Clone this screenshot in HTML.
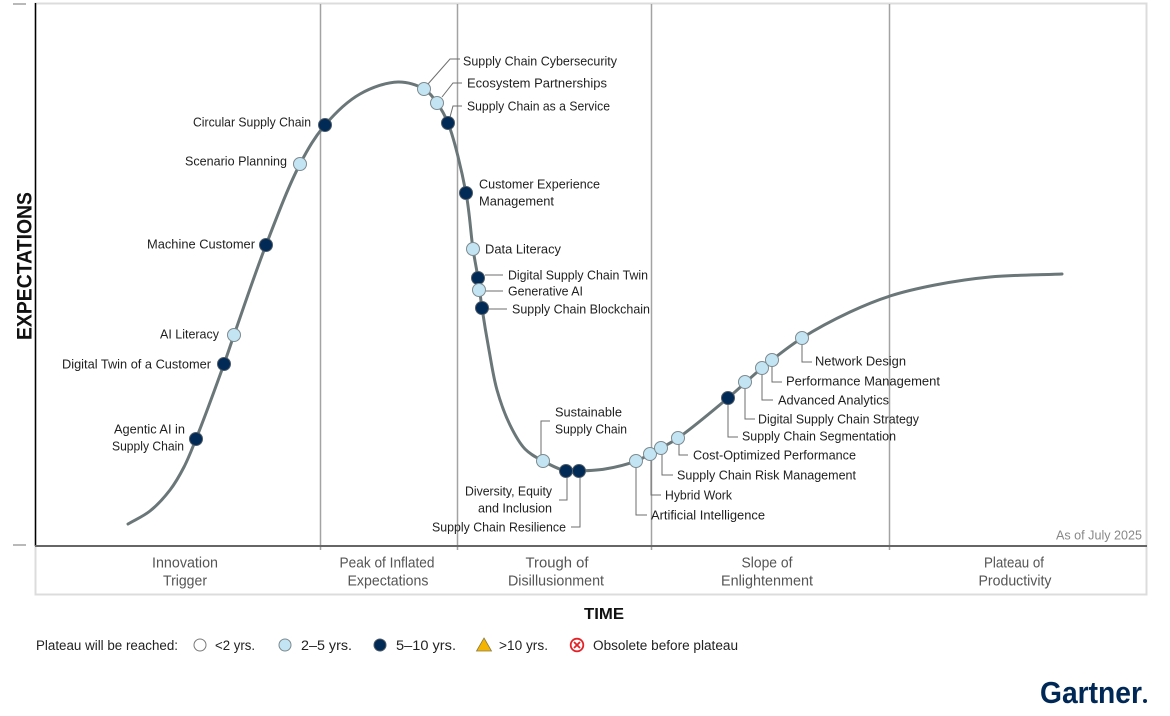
<!DOCTYPE html>
<html>
<head>
<meta charset="utf-8">
<style>
html,body{margin:0;padding:0;background:#fff;}
svg{display:block;}
.lbl{font-family:"Liberation Sans",sans-serif;font-size:13px;fill:#1f1f1f;}
.ph{font-family:"Liberation Sans",sans-serif;font-size:14.5px;fill:#555;}
.lg{font-family:"Liberation Sans",sans-serif;font-size:13.5px;fill:#222;}
.ld{stroke:#6e6e6e;stroke-width:1;fill:none;}
.L{fill:#c3e5f3;stroke:#7d8a8f;stroke-width:1;}
.D{fill:#012a57;stroke:#4c5a66;stroke-width:1;}
</style>
</head>
<body>
<svg id="s" width="1170" height="716" viewBox="0 0 1170 716" xmlns="http://www.w3.org/2000/svg">
<rect x="0" y="0" width="1170" height="716" fill="#fff"/>
<!-- frame -->
<rect x="35.5" y="3.5" width="1111" height="591" fill="none" stroke="#dcdcdc" stroke-width="2"/>
<!-- dividers -->
<g stroke="#a3a3a3" stroke-width="1.5">
<line x1="320.5" y1="4" x2="320.5" y2="550"/>
<line x1="457.5" y1="4" x2="457.5" y2="550"/>
<line x1="651.5" y1="4" x2="651.5" y2="550"/>
<line x1="889.5" y1="4" x2="889.5" y2="550"/>
</g>
<!-- axes -->
<line x1="35.5" y1="3" x2="35.5" y2="546" stroke="#000" stroke-width="1.5"/>
<line x1="35" y1="546" x2="1147" y2="546" stroke="#666" stroke-width="2"/>
<line x1="13" y1="4" x2="26" y2="4" stroke="#8a8a8a" stroke-width="1.2"/>
<line x1="13" y1="545" x2="26" y2="545" stroke="#8a8a8a" stroke-width="1.2"/>

<text x="24" y="266" transform="rotate(-90 24 266)" text-anchor="middle" dy="7.5" font-family="Liberation Sans, sans-serif" font-weight="bold" font-size="21" fill="#111" textLength="148" lengthAdjust="spacingAndGlyphs">EXPECTATIONS</text>

<!-- curve -->
<path id="curve" d="M128,524 L150,511 L170,490 L184,467 L196,439 L224,364 L234,335 L266,245 L300,164 L325,125 L360,94 L398,82 L424,89 L437,103 L448,123 L466,193 L473,249 L478,278 L482,308 L489,350 L497,390 L510,425 L525,449 L543,461 L566,471 L579,471 L605,469 L636,461 L661,448 L678,438 L728,398 L762,368 L802,338 L850,312 L890,296 L935,285 L990,277 L1062,274" fill="none" stroke="#6a7678" stroke-width="3" stroke-linecap="round" stroke-linejoin="round"/>

<!-- leader lines -->
<g class="ld">
<polyline points="428,84 450,59 460,59"/>
<polyline points="442,97 453,83 462,83"/>
<polyline points="450,117 453,106 462,106"/>
<line x1="485" y1="275" x2="503" y2="275"/>
<line x1="486" y1="291" x2="503" y2="291"/>
<line x1="488" y1="309" x2="507" y2="309"/>
<polyline points="541,455 541,421 550,421"/>
<polyline points="567,477 567,500 559,500"/>
<polyline points="580,477 580,527 571,527"/>
<polyline points="636,467 636,515 647,515"/>
<polyline points="651,460 651,495 661,495"/>
<polyline points="662,454 662,475 673,475"/>
<polyline points="679,444 679,455 688,455"/>
<polyline points="728,404 728,437 738,437"/>
<polyline points="745,388 745,419 755,419"/>
<polyline points="762,374 762,400 773,400"/>
<polyline points="772,366 772,382 782,382"/>
<polyline points="802,344 802,362 812,362"/>
</g>

<!-- dots -->
<g>
<circle class="D" cx="196" cy="439" r="6.5"/>
<circle class="D" cx="224" cy="364" r="6.5"/>
<circle class="L" cx="234" cy="335" r="6.5"/>
<circle class="D" cx="266" cy="245" r="6.5"/>
<circle class="L" cx="300" cy="164" r="6.5"/>
<circle class="D" cx="325" cy="125" r="6.5"/>
<circle class="L" cx="424" cy="89" r="6.5"/>
<circle class="L" cx="437" cy="103" r="6.5"/>
<circle class="D" cx="448" cy="123" r="6.5"/>
<circle class="D" cx="466" cy="193" r="6.5"/>
<circle class="L" cx="473" cy="249" r="6.5"/>
<circle class="D" cx="478" cy="278" r="6.5"/>
<circle class="L" cx="479" cy="290" r="6.5"/>
<circle class="D" cx="482" cy="308" r="6.5"/>
<circle class="L" cx="543" cy="461" r="6.5"/>
<circle class="D" cx="566" cy="471" r="6.5"/>
<circle class="D" cx="579" cy="471" r="6.5"/>
<circle class="L" cx="636" cy="461" r="6.5"/>
<circle class="L" cx="650" cy="454" r="6.5"/>
<circle class="L" cx="661" cy="448" r="6.5"/>
<circle class="L" cx="678" cy="438" r="6.5"/>
<circle class="D" cx="728" cy="398" r="6.5"/>
<circle class="L" cx="745" cy="382" r="6.5"/>
<circle class="L" cx="762" cy="368" r="6.5"/>
<circle class="L" cx="772" cy="360" r="6.5"/>
<circle class="L" cx="802" cy="338" r="6.5"/>
</g>

<!-- labels right-aligned -->
<g class="lbl" text-anchor="end">
<text x="311" y="126.7" textLength="118" lengthAdjust="spacingAndGlyphs">Circular Supply Chain</text>
<text x="287" y="165.7" textLength="102" lengthAdjust="spacingAndGlyphs">Scenario Planning</text>
<text x="255" y="248.7" textLength="108" lengthAdjust="spacingAndGlyphs">Machine Customer</text>
<text x="219" y="338.7" textLength="59" lengthAdjust="spacingAndGlyphs">AI Literacy</text>
<text x="211" y="368.7" textLength="149" lengthAdjust="spacingAndGlyphs">Digital Twin of a Customer</text>
<text x="185" y="433.7" textLength="71" lengthAdjust="spacingAndGlyphs">Agentic AI in</text>
<text x="184" y="450.7" textLength="72" lengthAdjust="spacingAndGlyphs">Supply Chain</text>
<text x="552" y="495.7" textLength="87" lengthAdjust="spacingAndGlyphs">Diversity, Equity</text>
<text x="552" y="512.7" textLength="74" lengthAdjust="spacingAndGlyphs">and Inclusion</text>
<text x="566" y="531.7" textLength="134" lengthAdjust="spacingAndGlyphs">Supply Chain Resilience</text>
</g>
<!-- labels left-aligned -->
<g class="lbl">
<text x="463" y="65.7" textLength="154" lengthAdjust="spacingAndGlyphs">Supply Chain Cybersecurity</text>
<text x="467" y="87.7" textLength="140" lengthAdjust="spacingAndGlyphs">Ecosystem Partnerships</text>
<text x="467" y="110.7" textLength="143" lengthAdjust="spacingAndGlyphs">Supply Chain as a Service</text>
<text x="479" y="188.7" textLength="121" lengthAdjust="spacingAndGlyphs">Customer Experience</text>
<text x="479" y="205.7" textLength="75" lengthAdjust="spacingAndGlyphs">Management</text>
<text x="485" y="253.7" textLength="76" lengthAdjust="spacingAndGlyphs">Data Literacy</text>
<text x="508" y="279.7" textLength="140" lengthAdjust="spacingAndGlyphs">Digital Supply Chain Twin</text>
<text x="508" y="295.7" textLength="75" lengthAdjust="spacingAndGlyphs">Generative AI</text>
<text x="512" y="313.7" textLength="138" lengthAdjust="spacingAndGlyphs">Supply Chain Blockchain</text>
<text x="555" y="416.7" textLength="67" lengthAdjust="spacingAndGlyphs">Sustainable</text>
<text x="555" y="433.7" textLength="72" lengthAdjust="spacingAndGlyphs">Supply Chain</text>
<text x="651" y="519.7" textLength="114" lengthAdjust="spacingAndGlyphs">Artificial Intelligence</text>
<text x="665" y="499.7" textLength="67" lengthAdjust="spacingAndGlyphs">Hybrid Work</text>
<text x="677" y="479.7" textLength="179" lengthAdjust="spacingAndGlyphs">Supply Chain Risk Management</text>
<text x="693" y="459.7" textLength="163" lengthAdjust="spacingAndGlyphs">Cost-Optimized Performance</text>
<text x="742" y="440.7" textLength="154" lengthAdjust="spacingAndGlyphs">Supply Chain Segmentation</text>
<text x="758" y="423.7" textLength="161" lengthAdjust="spacingAndGlyphs">Digital Supply Chain Strategy</text>
<text x="778" y="404.7" textLength="111" lengthAdjust="spacingAndGlyphs">Advanced Analytics</text>
<text x="786" y="385.7" textLength="154" lengthAdjust="spacingAndGlyphs">Performance Management</text>
<text x="815" y="365.7" textLength="91" lengthAdjust="spacingAndGlyphs">Network Design</text>
</g>

<text x="1142" y="539.5" text-anchor="end" font-family="Liberation Sans, sans-serif" font-size="12.5" fill="#888" textLength="86" lengthAdjust="spacingAndGlyphs">As of July 2025</text>

<!-- phase labels -->
<g class="ph" text-anchor="middle">
<text x="185" y="567.5" textLength="66" lengthAdjust="spacingAndGlyphs">Innovation</text>
<text x="185" y="585.5" textLength="44" lengthAdjust="spacingAndGlyphs">Trigger</text>
<text x="387" y="567.5" textLength="95" lengthAdjust="spacingAndGlyphs">Peak of Inflated</text>
<text x="388" y="585.5" textLength="81" lengthAdjust="spacingAndGlyphs">Expectations</text>
<text x="557" y="567.5" textLength="63" lengthAdjust="spacingAndGlyphs">Trough of</text>
<text x="556" y="585.5" textLength="96" lengthAdjust="spacingAndGlyphs">Disillusionment</text>
<text x="767" y="567.5" textLength="51" lengthAdjust="spacingAndGlyphs">Slope of</text>
<text x="767" y="585.5" textLength="92" lengthAdjust="spacingAndGlyphs">Enlightenment</text>
<text x="1014" y="567.5" textLength="60" lengthAdjust="spacingAndGlyphs">Plateau of</text>
<text x="1015" y="585.5" textLength="73" lengthAdjust="spacingAndGlyphs">Productivity</text>
</g>

<text x="604" y="619" text-anchor="middle" font-family="Liberation Sans, sans-serif" font-weight="bold" font-size="16" fill="#111" textLength="40" lengthAdjust="spacingAndGlyphs">TIME</text>

<!-- legend -->
<g class="lg">
<text x="36" y="650" textLength="142" lengthAdjust="spacingAndGlyphs">Plateau will be reached:</text>
<circle cx="200" cy="645" r="6" fill="#fff" stroke="#7a7a7a" stroke-width="1"/>
<text x="215" y="650" textLength="40" lengthAdjust="spacingAndGlyphs">&lt;2 yrs.</text>
<circle cx="285" cy="645" r="6" class="L"/>
<text x="301" y="650" textLength="51" lengthAdjust="spacingAndGlyphs">2–5 yrs.</text>
<circle cx="380" cy="645" r="6" class="D"/>
<text x="396" y="650" textLength="60" lengthAdjust="spacingAndGlyphs">5–10 yrs.</text>
<polygon points="484,638 491.5,651 476.5,651" fill="#f5b400" stroke="#8a7a40" stroke-width="0.8"/>
<text x="499" y="650" textLength="49" lengthAdjust="spacingAndGlyphs">&gt;10 yrs.</text>
<circle cx="577" cy="645" r="6.3" fill="#fff" stroke="#e32227" stroke-width="1.8"/>
<line x1="574" y1="642" x2="580" y2="648" stroke="#e32227" stroke-width="1.8"/>
<line x1="580" y1="642" x2="574" y2="648" stroke="#e32227" stroke-width="1.8"/>
<text x="593" y="650" textLength="145" lengthAdjust="spacingAndGlyphs">Obsolete before plateau</text>
</g>

<!-- logo -->
<text x="1040" y="703" font-family="Liberation Sans, sans-serif" font-weight="bold" font-size="31" fill="#002856" textLength="102" lengthAdjust="spacingAndGlyphs">Gartner</text>
<circle cx="1145" cy="701" r="2" fill="#002856"/>
</svg>
<script>
(function(){
var p=[[128,524],[150,511],[170,490],[184,467],[196,439],[224,364],[234,335],[266,245],[300,164],[325,125],[360,94],[398,82],[424,89],[437,103],[448,123],[466,193],[473,249],[478,278],[482,308],[489,350],[497,390],[510,425],[525,449],[543,461],[566,471],[579,471],[605,469],[636,461],[661,448],[678,438],[728,398],[762,368],[802,338],[850,312],[890,296],[935,285],[990,277],[1062,274]];
function dist(a,b){var dx=a[0]-b[0],dy=a[1]-b[1];return Math.pow(Math.sqrt(dx*dx+dy*dy),0.5)||1e-4;}
var n=p.length;
var d="M"+p[0][0]+","+p[0][1];
for(var i=0;i<n-1;i++){
var p1=p[i],p2=p[i+1];
var p0=i>0?p[i-1]:[2*p1[0]-p2[0],2*p1[1]-p2[1]];
var p3=i<n-2?p[i+2]:[2*p2[0]-p1[0],2*p2[1]-p1[1]];
var t01=dist(p0,p1),t12=dist(p1,p2),t23=dist(p2,p3);
var m1=[],m2=[];
for(var k=0;k<2;k++){
m1[k]=t12*((p1[k]-p0[k])/t01-(p2[k]-p0[k])/(t01+t12)+(p2[k]-p1[k])/t12);
m2[k]=t12*((p2[k]-p1[k])/t12-(p3[k]-p1[k])/(t12+t23)+(p3[k]-p2[k])/t23);
}
var c1x=p1[0]+m1[0]/3,c1y=p1[1]+m1[1]/3,c2x=p2[0]-m2[0]/3,c2y=p2[1]-m2[1]/3;
d+=" C"+c1x.toFixed(2)+","+c1y.toFixed(2)+" "+c2x.toFixed(2)+","+c2y.toFixed(2)+" "+p2[0]+","+p2[1];
}
document.getElementById("curve").setAttribute("d",d);
})();
</script>
</body>
</html>
